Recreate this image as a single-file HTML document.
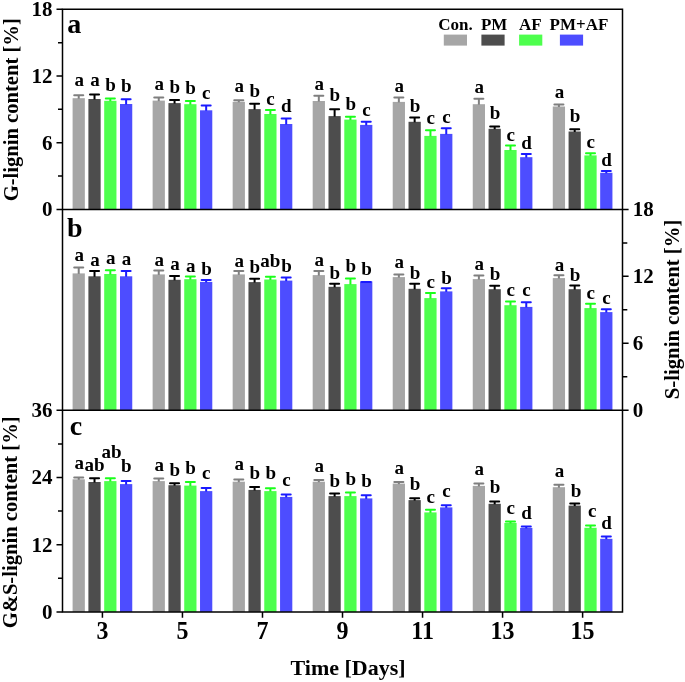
<!DOCTYPE html>
<html><head><meta charset="utf-8"><title>Lignin content chart</title><style>
html,body{margin:0;padding:0;background:#fff;width:685px;height:682px;overflow:hidden}
svg{display:block;will-change:transform;font-family:"Liberation Serif",serif;font-weight:bold}
.lb{font-size:18px;text-anchor:middle}
.tk text{font-size:21px}
.pl text{font-size:28px}
.lg text{font-size:17px}
.ti text{font-size:22px}
.tk text.xl{font-size:24px}
</style></head><body>
<svg width="685" height="682" viewBox="0 0 685 682">
<rect width="685" height="682" fill="#fff"/>
<rect x="72.6" y="98.2" width="12.25" height="111.2" fill="#a6a6a6"/>
<rect x="88.4" y="99" width="12.25" height="110.4" fill="#4d4d4d"/>
<rect x="104.2" y="100.8" width="12.25" height="108.6" fill="#4dff4d"/>
<rect x="120" y="104" width="12.25" height="105.4" fill="#4d4dff"/>
<path d="M78.72 95.3V98.7" stroke="#7f7f7f" stroke-width="2"/>
<path d="M74.2 95.3H83.25" stroke="#7f7f7f" stroke-width="2" stroke-linecap="round"/>
<path d="M94.52 94.5V99.5" stroke="#000000" stroke-width="2"/>
<path d="M90 94.5H99.05" stroke="#000000" stroke-width="2" stroke-linecap="round"/>
<path d="M110.32 98.4V101.3" stroke="#1aff1a" stroke-width="2"/>
<path d="M105.8 98.4H114.85" stroke="#1aff1a" stroke-width="2" stroke-linecap="round"/>
<path d="M126.12 99.2V104.5" stroke="#1a1aff" stroke-width="2"/>
<path d="M121.6 99.2H130.65" stroke="#1a1aff" stroke-width="2" stroke-linecap="round"/>
<text transform="translate(79.22 85.65) scale(1.06 1)" class="lb">a</text>
<text transform="translate(95.02 85.65) scale(1.06 1)" class="lb">a</text>
<text transform="translate(110.62 90.95) scale(1.06 1)" class="lb">b</text>
<text transform="translate(126.42 91.75) scale(1.06 1)" class="lb">b</text>
<rect x="152.63" y="100.6" width="12.25" height="108.8" fill="#a6a6a6"/>
<rect x="168.43" y="103.1" width="12.25" height="106.3" fill="#4d4d4d"/>
<rect x="184.23" y="104.2" width="12.25" height="105.2" fill="#4dff4d"/>
<rect x="200.03" y="110.3" width="12.25" height="99.1" fill="#4d4dff"/>
<path d="M158.75 97.4V101.1" stroke="#7f7f7f" stroke-width="2"/>
<path d="M154.23 97.4H163.28" stroke="#7f7f7f" stroke-width="2" stroke-linecap="round"/>
<path d="M174.56 100V103.6" stroke="#000000" stroke-width="2"/>
<path d="M170.03 100H179.08" stroke="#000000" stroke-width="2" stroke-linecap="round"/>
<path d="M190.35 101.1V104.7" stroke="#1aff1a" stroke-width="2"/>
<path d="M185.83 101.1H194.88" stroke="#1aff1a" stroke-width="2" stroke-linecap="round"/>
<path d="M206.16 105.6V110.8" stroke="#1a1aff" stroke-width="2"/>
<path d="M201.63 105.6H210.68" stroke="#1a1aff" stroke-width="2" stroke-linecap="round"/>
<text transform="translate(159.25 89.55) scale(1.06 1)" class="lb">a</text>
<text transform="translate(174.86 92.95) scale(1.06 1)" class="lb">b</text>
<text transform="translate(190.66 94.25) scale(1.06 1)" class="lb">b</text>
<text transform="translate(206.35 99.15) scale(1.06 1)" class="lb">c</text>
<rect x="232.66" y="101.8" width="12.25" height="107.6" fill="#a6a6a6"/>
<rect x="248.46" y="109.1" width="12.25" height="100.3" fill="#4d4d4d"/>
<rect x="264.26" y="114" width="12.25" height="95.4" fill="#4dff4d"/>
<rect x="280.06" y="124" width="12.25" height="85.4" fill="#4d4dff"/>
<path d="M238.78 100.2V102.3" stroke="#7f7f7f" stroke-width="2"/>
<path d="M234.26 100.2H243.31" stroke="#7f7f7f" stroke-width="2" stroke-linecap="round"/>
<path d="M254.59 103.7V109.6" stroke="#000000" stroke-width="2"/>
<path d="M250.06 103.7H259.11" stroke="#000000" stroke-width="2" stroke-linecap="round"/>
<path d="M270.38 109.9V114.5" stroke="#1aff1a" stroke-width="2"/>
<path d="M265.86 109.9H274.91" stroke="#1aff1a" stroke-width="2" stroke-linecap="round"/>
<path d="M286.19 118.5V124.5" stroke="#1a1aff" stroke-width="2"/>
<path d="M281.66 118.5H290.71" stroke="#1a1aff" stroke-width="2" stroke-linecap="round"/>
<text transform="translate(239.28 92.35) scale(1.06 1)" class="lb">a</text>
<text transform="translate(254.89 96.65) scale(1.06 1)" class="lb">b</text>
<text transform="translate(270.58 104.85) scale(1.06 1)" class="lb">c</text>
<text transform="translate(286.38 112.35) scale(1.06 1)" class="lb">d</text>
<rect x="312.69" y="101" width="12.25" height="108.4" fill="#a6a6a6"/>
<rect x="328.49" y="116.1" width="12.25" height="93.3" fill="#4d4d4d"/>
<rect x="344.29" y="119.6" width="12.25" height="89.8" fill="#4dff4d"/>
<rect x="360.09" y="124.9" width="12.25" height="84.5" fill="#4d4dff"/>
<path d="M318.81 95.8V101.5" stroke="#7f7f7f" stroke-width="2"/>
<path d="M314.29 95.8H323.34" stroke="#7f7f7f" stroke-width="2" stroke-linecap="round"/>
<path d="M334.62 109.2V116.6" stroke="#000000" stroke-width="2"/>
<path d="M330.09 109.2H339.14" stroke="#000000" stroke-width="2" stroke-linecap="round"/>
<path d="M350.42 116.8V120.1" stroke="#1aff1a" stroke-width="2"/>
<path d="M345.89 116.8H354.94" stroke="#1aff1a" stroke-width="2" stroke-linecap="round"/>
<path d="M366.22 121.8V125.4" stroke="#1a1aff" stroke-width="2"/>
<path d="M361.69 121.8H370.74" stroke="#1a1aff" stroke-width="2" stroke-linecap="round"/>
<text transform="translate(319.31 89.65) scale(1.06 1)" class="lb">a</text>
<text transform="translate(334.92 100.95) scale(1.06 1)" class="lb">b</text>
<text transform="translate(350.72 110.05) scale(1.06 1)" class="lb">b</text>
<text transform="translate(366.42 116.15) scale(1.06 1)" class="lb">c</text>
<rect x="392.72" y="101.9" width="12.25" height="107.5" fill="#a6a6a6"/>
<rect x="408.52" y="121.8" width="12.25" height="87.6" fill="#4d4d4d"/>
<rect x="424.32" y="135.9" width="12.25" height="73.5" fill="#4dff4d"/>
<rect x="440.12" y="133.9" width="12.25" height="75.5" fill="#4d4dff"/>
<path d="M398.85 97.6V102.4" stroke="#7f7f7f" stroke-width="2"/>
<path d="M394.32 97.6H403.37" stroke="#7f7f7f" stroke-width="2" stroke-linecap="round"/>
<path d="M414.65 117.4V122.3" stroke="#000000" stroke-width="2"/>
<path d="M410.12 117.4H419.17" stroke="#000000" stroke-width="2" stroke-linecap="round"/>
<path d="M430.45 130.3V136.4" stroke="#1aff1a" stroke-width="2"/>
<path d="M425.92 130.3H434.97" stroke="#1aff1a" stroke-width="2" stroke-linecap="round"/>
<path d="M446.25 128.3V134.4" stroke="#1a1aff" stroke-width="2"/>
<path d="M441.72 128.3H450.77" stroke="#1a1aff" stroke-width="2" stroke-linecap="round"/>
<text transform="translate(399.35 92.35) scale(1.06 1)" class="lb">a</text>
<text transform="translate(414.95 111.85) scale(1.06 1)" class="lb">b</text>
<text transform="translate(430.65 123.85) scale(1.06 1)" class="lb">c</text>
<text transform="translate(446.44 122.95) scale(1.06 1)" class="lb">c</text>
<rect x="472.75" y="104.2" width="12.25" height="105.2" fill="#a6a6a6"/>
<rect x="488.55" y="128.8" width="12.25" height="80.6" fill="#4d4d4d"/>
<rect x="504.35" y="150" width="12.25" height="59.4" fill="#4dff4d"/>
<rect x="520.15" y="157.2" width="12.25" height="52.2" fill="#4d4dff"/>
<path d="M478.88 98.8V104.7" stroke="#7f7f7f" stroke-width="2"/>
<path d="M474.35 98.8H483.4" stroke="#7f7f7f" stroke-width="2" stroke-linecap="round"/>
<path d="M494.68 126.5V129.3" stroke="#000000" stroke-width="2"/>
<path d="M490.15 126.5H499.2" stroke="#000000" stroke-width="2" stroke-linecap="round"/>
<path d="M510.48 145.4V150.5" stroke="#1aff1a" stroke-width="2"/>
<path d="M505.95 145.4H515" stroke="#1aff1a" stroke-width="2" stroke-linecap="round"/>
<path d="M526.27 154V157.7" stroke="#1a1aff" stroke-width="2"/>
<path d="M521.75 154H530.8" stroke="#1a1aff" stroke-width="2" stroke-linecap="round"/>
<text transform="translate(479.38 93.15) scale(1.06 1)" class="lb">a</text>
<text transform="translate(494.98 118.85) scale(1.06 1)" class="lb">b</text>
<text transform="translate(510.68 141.35) scale(1.06 1)" class="lb">c</text>
<text transform="translate(526.48 148.95) scale(1.06 1)" class="lb">d</text>
<rect x="552.78" y="106.5" width="12.25" height="102.9" fill="#a6a6a6"/>
<rect x="568.58" y="131.5" width="12.25" height="77.9" fill="#4d4d4d"/>
<rect x="584.38" y="155.4" width="12.25" height="54" fill="#4dff4d"/>
<rect x="600.18" y="172.8" width="12.25" height="36.6" fill="#4d4dff"/>
<path d="M558.9 104.5V107" stroke="#7f7f7f" stroke-width="2"/>
<path d="M554.38 104.5H563.43" stroke="#7f7f7f" stroke-width="2" stroke-linecap="round"/>
<path d="M574.7 129.2V132" stroke="#000000" stroke-width="2"/>
<path d="M570.18 129.2H579.23" stroke="#000000" stroke-width="2" stroke-linecap="round"/>
<path d="M590.5 153.3V155.9" stroke="#1aff1a" stroke-width="2"/>
<path d="M585.98 153.3H595.03" stroke="#1aff1a" stroke-width="2" stroke-linecap="round"/>
<path d="M606.3 171V173.3" stroke="#1a1aff" stroke-width="2"/>
<path d="M601.78 171H610.83" stroke="#1a1aff" stroke-width="2" stroke-linecap="round"/>
<text transform="translate(559.4 97.55) scale(1.06 1)" class="lb">a</text>
<text transform="translate(575 121.85) scale(1.06 1)" class="lb">b</text>
<text transform="translate(590.71 148.05) scale(1.06 1)" class="lb">c</text>
<text transform="translate(606.5 165.75) scale(1.06 1)" class="lb">d</text>
<rect x="72.6" y="273.4" width="12.25" height="136.9" fill="#a6a6a6"/>
<rect x="88.4" y="276.3" width="12.25" height="134" fill="#4d4d4d"/>
<rect x="104.2" y="274" width="12.25" height="136.3" fill="#4dff4d"/>
<rect x="120" y="276.3" width="12.25" height="134" fill="#4d4dff"/>
<path d="M78.72 267.4V273.9" stroke="#7f7f7f" stroke-width="2"/>
<path d="M74.2 267.4H83.25" stroke="#7f7f7f" stroke-width="2" stroke-linecap="round"/>
<path d="M94.52 270.9V276.8" stroke="#000000" stroke-width="2"/>
<path d="M90 270.9H99.05" stroke="#000000" stroke-width="2" stroke-linecap="round"/>
<path d="M110.32 270.2V274.5" stroke="#1aff1a" stroke-width="2"/>
<path d="M105.8 270.2H114.85" stroke="#1aff1a" stroke-width="2" stroke-linecap="round"/>
<path d="M126.12 270.9V276.8" stroke="#1a1aff" stroke-width="2"/>
<path d="M121.6 270.9H130.65" stroke="#1a1aff" stroke-width="2" stroke-linecap="round"/>
<text transform="translate(79.22 261.15) scale(1.06 1)" class="lb">a</text>
<text transform="translate(95.02 265.75) scale(1.06 1)" class="lb">a</text>
<text transform="translate(110.82 264.05) scale(1.06 1)" class="lb">a</text>
<text transform="translate(126.62 264.65) scale(1.06 1)" class="lb">a</text>
<rect x="152.63" y="274.4" width="12.25" height="135.9" fill="#a6a6a6"/>
<rect x="168.43" y="279.8" width="12.25" height="130.5" fill="#4d4d4d"/>
<rect x="184.23" y="279.2" width="12.25" height="131.1" fill="#4dff4d"/>
<rect x="200.03" y="281.9" width="12.25" height="128.4" fill="#4d4dff"/>
<path d="M158.75 270.5V274.9" stroke="#7f7f7f" stroke-width="2"/>
<path d="M154.23 270.5H163.28" stroke="#7f7f7f" stroke-width="2" stroke-linecap="round"/>
<path d="M174.56 276V280.3" stroke="#000000" stroke-width="2"/>
<path d="M170.03 276H179.08" stroke="#000000" stroke-width="2" stroke-linecap="round"/>
<path d="M190.35 276.6V279.7" stroke="#1aff1a" stroke-width="2"/>
<path d="M185.83 276.6H194.88" stroke="#1aff1a" stroke-width="2" stroke-linecap="round"/>
<path d="M206.16 279.9V282.4" stroke="#1a1aff" stroke-width="2"/>
<path d="M201.63 279.9H210.68" stroke="#1a1aff" stroke-width="2" stroke-linecap="round"/>
<text transform="translate(159.25 266.15) scale(1.06 1)" class="lb">a</text>
<text transform="translate(175.06 270.25) scale(1.06 1)" class="lb">a</text>
<text transform="translate(190.85 271.95) scale(1.06 1)" class="lb">a</text>
<text transform="translate(206.46 274.55) scale(1.06 1)" class="lb">b</text>
<rect x="232.66" y="274.4" width="12.25" height="135.9" fill="#a6a6a6"/>
<rect x="248.46" y="282.1" width="12.25" height="128.2" fill="#4d4d4d"/>
<rect x="264.26" y="279.5" width="12.25" height="130.8" fill="#4dff4d"/>
<rect x="280.06" y="280.6" width="12.25" height="129.7" fill="#4d4dff"/>
<path d="M238.78 271.1V274.9" stroke="#7f7f7f" stroke-width="2"/>
<path d="M234.26 271.1H243.31" stroke="#7f7f7f" stroke-width="2" stroke-linecap="round"/>
<path d="M254.59 278.7V282.6" stroke="#000000" stroke-width="2"/>
<path d="M250.06 278.7H259.11" stroke="#000000" stroke-width="2" stroke-linecap="round"/>
<path d="M270.38 276.7V280" stroke="#1aff1a" stroke-width="2"/>
<path d="M265.86 276.7H274.91" stroke="#1aff1a" stroke-width="2" stroke-linecap="round"/>
<path d="M286.19 277.5V281.1" stroke="#1a1aff" stroke-width="2"/>
<path d="M281.66 277.5H290.71" stroke="#1a1aff" stroke-width="2" stroke-linecap="round"/>
<text transform="translate(239.28 266.95) scale(1.06 1)" class="lb">a</text>
<text transform="translate(254.89 273.35) scale(1.06 1)" class="lb">b</text>
<text transform="translate(270.38 266.95) scale(1.06 1)" class="lb">ab</text>
<text transform="translate(286.49 271.65) scale(1.06 1)" class="lb">b</text>
<rect x="312.69" y="275.1" width="12.25" height="135.2" fill="#a6a6a6"/>
<rect x="328.49" y="286.8" width="12.25" height="123.5" fill="#4d4d4d"/>
<rect x="344.29" y="284.1" width="12.25" height="126.2" fill="#4dff4d"/>
<rect x="360.09" y="281.4" width="12.25" height="128.9" fill="#4d4dff"/>
<path d="M318.81 271.1V275.6" stroke="#7f7f7f" stroke-width="2"/>
<path d="M314.29 271.1H323.34" stroke="#7f7f7f" stroke-width="2" stroke-linecap="round"/>
<path d="M334.62 283.7V287.3" stroke="#000000" stroke-width="2"/>
<path d="M330.09 283.7H339.14" stroke="#000000" stroke-width="2" stroke-linecap="round"/>
<path d="M350.42 278.5V284.6" stroke="#1aff1a" stroke-width="2"/>
<path d="M345.89 278.5H354.94" stroke="#1aff1a" stroke-width="2" stroke-linecap="round"/>
<path d="M366.22 281.9V281.9" stroke="#1a1aff" stroke-width="2"/>
<path d="M361.69 281.9H370.74" stroke="#1a1aff" stroke-width="2" stroke-linecap="round"/>
<text transform="translate(319.31 265.75) scale(1.06 1)" class="lb">a</text>
<text transform="translate(334.92 279.25) scale(1.06 1)" class="lb">b</text>
<text transform="translate(350.72 271.65) scale(1.06 1)" class="lb">b</text>
<text transform="translate(366.52 275.15) scale(1.06 1)" class="lb">b</text>
<rect x="392.72" y="277.1" width="12.25" height="133.2" fill="#a6a6a6"/>
<rect x="408.52" y="288.8" width="12.25" height="121.5" fill="#4d4d4d"/>
<rect x="424.32" y="298.1" width="12.25" height="112.2" fill="#4dff4d"/>
<rect x="440.12" y="291.4" width="12.25" height="118.9" fill="#4d4dff"/>
<path d="M398.85 274.4V277.6" stroke="#7f7f7f" stroke-width="2"/>
<path d="M394.32 274.4H403.37" stroke="#7f7f7f" stroke-width="2" stroke-linecap="round"/>
<path d="M414.65 283.7V289.3" stroke="#000000" stroke-width="2"/>
<path d="M410.12 283.7H419.17" stroke="#000000" stroke-width="2" stroke-linecap="round"/>
<path d="M430.45 293.1V298.6" stroke="#1aff1a" stroke-width="2"/>
<path d="M425.92 293.1H434.97" stroke="#1aff1a" stroke-width="2" stroke-linecap="round"/>
<path d="M446.25 288.3V291.9" stroke="#1a1aff" stroke-width="2"/>
<path d="M441.72 288.3H450.77" stroke="#1a1aff" stroke-width="2" stroke-linecap="round"/>
<text transform="translate(399.35 268.45) scale(1.06 1)" class="lb">a</text>
<text transform="translate(414.95 279.45) scale(1.06 1)" class="lb">b</text>
<text transform="translate(430.65 287.65) scale(1.06 1)" class="lb">c</text>
<text transform="translate(446.55 283.65) scale(1.06 1)" class="lb">b</text>
<rect x="472.75" y="279.1" width="12.25" height="131.2" fill="#a6a6a6"/>
<rect x="488.55" y="289.2" width="12.25" height="121.1" fill="#4d4d4d"/>
<rect x="504.35" y="305.2" width="12.25" height="105.1" fill="#4dff4d"/>
<rect x="520.15" y="306.9" width="12.25" height="103.4" fill="#4d4dff"/>
<path d="M478.88 275.4V279.6" stroke="#7f7f7f" stroke-width="2"/>
<path d="M474.35 275.4H483.4" stroke="#7f7f7f" stroke-width="2" stroke-linecap="round"/>
<path d="M494.68 285.7V289.7" stroke="#000000" stroke-width="2"/>
<path d="M490.15 285.7H499.2" stroke="#000000" stroke-width="2" stroke-linecap="round"/>
<path d="M510.48 301.5V305.7" stroke="#1aff1a" stroke-width="2"/>
<path d="M505.95 301.5H515" stroke="#1aff1a" stroke-width="2" stroke-linecap="round"/>
<path d="M526.27 302.3V307.4" stroke="#1a1aff" stroke-width="2"/>
<path d="M521.75 302.3H530.8" stroke="#1a1aff" stroke-width="2" stroke-linecap="round"/>
<text transform="translate(479.38 270.15) scale(1.06 1)" class="lb">a</text>
<text transform="translate(494.98 280.35) scale(1.06 1)" class="lb">b</text>
<text transform="translate(510.68 295.55) scale(1.06 1)" class="lb">c</text>
<text transform="translate(526.48 295.55) scale(1.06 1)" class="lb">c</text>
<rect x="552.78" y="278.1" width="12.25" height="132.2" fill="#a6a6a6"/>
<rect x="568.58" y="289.2" width="12.25" height="121.1" fill="#4d4d4d"/>
<rect x="584.38" y="308.1" width="12.25" height="102.2" fill="#4dff4d"/>
<rect x="600.18" y="312.1" width="12.25" height="98.2" fill="#4d4dff"/>
<path d="M558.9 275.3V278.6" stroke="#7f7f7f" stroke-width="2"/>
<path d="M554.38 275.3H563.43" stroke="#7f7f7f" stroke-width="2" stroke-linecap="round"/>
<path d="M574.7 285.6V289.7" stroke="#000000" stroke-width="2"/>
<path d="M570.18 285.6H579.23" stroke="#000000" stroke-width="2" stroke-linecap="round"/>
<path d="M590.5 303.7V308.6" stroke="#1aff1a" stroke-width="2"/>
<path d="M585.98 303.7H595.03" stroke="#1aff1a" stroke-width="2" stroke-linecap="round"/>
<path d="M606.3 309.3V312.6" stroke="#1a1aff" stroke-width="2"/>
<path d="M601.78 309.3H610.83" stroke="#1a1aff" stroke-width="2" stroke-linecap="round"/>
<text transform="translate(559.4 270.95) scale(1.06 1)" class="lb">a</text>
<text transform="translate(575 280.55) scale(1.06 1)" class="lb">b</text>
<text transform="translate(590.71 298.75) scale(1.06 1)" class="lb">c</text>
<text transform="translate(606.5 303.65) scale(1.06 1)" class="lb">c</text>
<rect x="72.6" y="479.3" width="12.25" height="132.6" fill="#a6a6a6"/>
<rect x="88.4" y="482" width="12.25" height="129.9" fill="#4d4d4d"/>
<rect x="104.2" y="481.1" width="12.25" height="130.8" fill="#4dff4d"/>
<rect x="120" y="484.1" width="12.25" height="127.8" fill="#4d4dff"/>
<path d="M78.72 477.5V479.8" stroke="#7f7f7f" stroke-width="2"/>
<path d="M74.2 477.5H83.25" stroke="#7f7f7f" stroke-width="2" stroke-linecap="round"/>
<path d="M94.52 478.3V482.5" stroke="#000000" stroke-width="2"/>
<path d="M90 478.3H99.05" stroke="#000000" stroke-width="2" stroke-linecap="round"/>
<path d="M110.32 478.3V481.6" stroke="#1aff1a" stroke-width="2"/>
<path d="M105.8 478.3H114.85" stroke="#1aff1a" stroke-width="2" stroke-linecap="round"/>
<path d="M126.12 481V484.6" stroke="#1a1aff" stroke-width="2"/>
<path d="M121.6 481H130.65" stroke="#1a1aff" stroke-width="2" stroke-linecap="round"/>
<text transform="translate(79.22 469.25) scale(1.06 1)" class="lb">a</text>
<text transform="translate(94.52 470.65) scale(1.06 1)" class="lb">ab</text>
<text transform="translate(111.52 457.55) scale(1.06 1)" class="lb">ab</text>
<text transform="translate(126.42 471.55) scale(1.06 1)" class="lb">b</text>
<rect x="152.63" y="481.1" width="12.25" height="130.8" fill="#a6a6a6"/>
<rect x="168.43" y="485.2" width="12.25" height="126.7" fill="#4d4d4d"/>
<rect x="184.23" y="485.6" width="12.25" height="126.3" fill="#4dff4d"/>
<rect x="200.03" y="491.1" width="12.25" height="120.8" fill="#4d4dff"/>
<path d="M158.75 478.4V481.6" stroke="#7f7f7f" stroke-width="2"/>
<path d="M154.23 478.4H163.28" stroke="#7f7f7f" stroke-width="2" stroke-linecap="round"/>
<path d="M174.56 483.3V485.7" stroke="#000000" stroke-width="2"/>
<path d="M170.03 483.3H179.08" stroke="#000000" stroke-width="2" stroke-linecap="round"/>
<path d="M190.35 481.9V486.1" stroke="#1aff1a" stroke-width="2"/>
<path d="M185.83 481.9H194.88" stroke="#1aff1a" stroke-width="2" stroke-linecap="round"/>
<path d="M206.16 488V491.6" stroke="#1a1aff" stroke-width="2"/>
<path d="M201.63 488H210.68" stroke="#1a1aff" stroke-width="2" stroke-linecap="round"/>
<text transform="translate(159.25 470.95) scale(1.06 1)" class="lb">a</text>
<text transform="translate(174.86 475.95) scale(1.06 1)" class="lb">b</text>
<text transform="translate(190.66 474.45) scale(1.06 1)" class="lb">b</text>
<text transform="translate(206.35 479.45) scale(1.06 1)" class="lb">c</text>
<rect x="232.66" y="481.7" width="12.25" height="130.2" fill="#a6a6a6"/>
<rect x="248.46" y="489.9" width="12.25" height="122" fill="#4d4d4d"/>
<rect x="264.26" y="491.1" width="12.25" height="120.8" fill="#4dff4d"/>
<rect x="280.06" y="496.9" width="12.25" height="115" fill="#4d4dff"/>
<path d="M238.78 479.4V482.2" stroke="#7f7f7f" stroke-width="2"/>
<path d="M234.26 479.4H243.31" stroke="#7f7f7f" stroke-width="2" stroke-linecap="round"/>
<path d="M254.59 487V490.4" stroke="#000000" stroke-width="2"/>
<path d="M250.06 487H259.11" stroke="#000000" stroke-width="2" stroke-linecap="round"/>
<path d="M270.38 488.3V491.6" stroke="#1aff1a" stroke-width="2"/>
<path d="M265.86 488.3H274.91" stroke="#1aff1a" stroke-width="2" stroke-linecap="round"/>
<path d="M286.19 494.4V497.4" stroke="#1a1aff" stroke-width="2"/>
<path d="M281.66 494.4H290.71" stroke="#1a1aff" stroke-width="2" stroke-linecap="round"/>
<text transform="translate(239.28 470.35) scale(1.06 1)" class="lb">a</text>
<text transform="translate(254.89 479.45) scale(1.06 1)" class="lb">b</text>
<text transform="translate(270.69 479.15) scale(1.06 1)" class="lb">b</text>
<text transform="translate(286.38 486.15) scale(1.06 1)" class="lb">c</text>
<rect x="312.69" y="481.7" width="12.25" height="130.2" fill="#a6a6a6"/>
<rect x="328.49" y="496.1" width="12.25" height="115.8" fill="#4d4d4d"/>
<rect x="344.29" y="496.1" width="12.25" height="115.8" fill="#4dff4d"/>
<rect x="360.09" y="498.4" width="12.25" height="113.5" fill="#4d4dff"/>
<path d="M318.81 480V482.2" stroke="#7f7f7f" stroke-width="2"/>
<path d="M314.29 480H323.34" stroke="#7f7f7f" stroke-width="2" stroke-linecap="round"/>
<path d="M334.62 493.5V496.6" stroke="#000000" stroke-width="2"/>
<path d="M330.09 493.5H339.14" stroke="#000000" stroke-width="2" stroke-linecap="round"/>
<path d="M350.42 492.6V496.6" stroke="#1aff1a" stroke-width="2"/>
<path d="M345.89 492.6H354.94" stroke="#1aff1a" stroke-width="2" stroke-linecap="round"/>
<path d="M366.22 495.2V498.9" stroke="#1a1aff" stroke-width="2"/>
<path d="M361.69 495.2H370.74" stroke="#1a1aff" stroke-width="2" stroke-linecap="round"/>
<text transform="translate(319.31 472.15) scale(1.06 1)" class="lb">a</text>
<text transform="translate(334.92 486.55) scale(1.06 1)" class="lb">b</text>
<text transform="translate(350.72 484.65) scale(1.06 1)" class="lb">b</text>
<text transform="translate(366.52 486.75) scale(1.06 1)" class="lb">b</text>
<rect x="392.72" y="483.6" width="12.25" height="128.3" fill="#a6a6a6"/>
<rect x="408.52" y="500.1" width="12.25" height="111.8" fill="#4d4d4d"/>
<rect x="424.32" y="512.4" width="12.25" height="99.5" fill="#4dff4d"/>
<rect x="440.12" y="507.4" width="12.25" height="104.5" fill="#4d4dff"/>
<path d="M398.85 482V484.1" stroke="#7f7f7f" stroke-width="2"/>
<path d="M394.32 482H403.37" stroke="#7f7f7f" stroke-width="2" stroke-linecap="round"/>
<path d="M414.65 498.2V500.6" stroke="#000000" stroke-width="2"/>
<path d="M410.12 498.2H419.17" stroke="#000000" stroke-width="2" stroke-linecap="round"/>
<path d="M430.45 509.7V512.9" stroke="#1aff1a" stroke-width="2"/>
<path d="M425.92 509.7H434.97" stroke="#1aff1a" stroke-width="2" stroke-linecap="round"/>
<path d="M446.25 505.2V507.9" stroke="#1a1aff" stroke-width="2"/>
<path d="M441.72 505.2H450.77" stroke="#1a1aff" stroke-width="2" stroke-linecap="round"/>
<text transform="translate(399.35 474.45) scale(1.06 1)" class="lb">a</text>
<text transform="translate(414.95 489.85) scale(1.06 1)" class="lb">b</text>
<text transform="translate(430.65 502.75) scale(1.06 1)" class="lb">c</text>
<text transform="translate(446.44 497.25) scale(1.06 1)" class="lb">c</text>
<rect x="472.75" y="485.9" width="12.25" height="126" fill="#a6a6a6"/>
<rect x="488.55" y="503.8" width="12.25" height="108.1" fill="#4d4d4d"/>
<rect x="504.35" y="522.9" width="12.25" height="89" fill="#4dff4d"/>
<rect x="520.15" y="527.9" width="12.25" height="84" fill="#4d4dff"/>
<path d="M478.88 483.6V486.4" stroke="#7f7f7f" stroke-width="2"/>
<path d="M474.35 483.6H483.4" stroke="#7f7f7f" stroke-width="2" stroke-linecap="round"/>
<path d="M494.68 501.4V504.3" stroke="#000000" stroke-width="2"/>
<path d="M490.15 501.4H499.2" stroke="#000000" stroke-width="2" stroke-linecap="round"/>
<path d="M510.48 521.5V523.4" stroke="#1aff1a" stroke-width="2"/>
<path d="M505.95 521.5H515" stroke="#1aff1a" stroke-width="2" stroke-linecap="round"/>
<path d="M526.27 526.5V528.4" stroke="#1a1aff" stroke-width="2"/>
<path d="M521.75 526.5H530.8" stroke="#1a1aff" stroke-width="2" stroke-linecap="round"/>
<text transform="translate(479.38 475.45) scale(1.06 1)" class="lb">a</text>
<text transform="translate(494.98 492.65) scale(1.06 1)" class="lb">b</text>
<text transform="translate(510.68 513.95) scale(1.06 1)" class="lb">c</text>
<text transform="translate(526.48 519.25) scale(1.06 1)" class="lb">d</text>
<rect x="552.78" y="487.2" width="12.25" height="124.7" fill="#a6a6a6"/>
<rect x="568.58" y="505.6" width="12.25" height="106.3" fill="#4d4d4d"/>
<rect x="584.38" y="527.8" width="12.25" height="84.1" fill="#4dff4d"/>
<rect x="600.18" y="538.8" width="12.25" height="73.1" fill="#4d4dff"/>
<path d="M558.9 484.8V487.7" stroke="#7f7f7f" stroke-width="2"/>
<path d="M554.38 484.8H563.43" stroke="#7f7f7f" stroke-width="2" stroke-linecap="round"/>
<path d="M574.7 503.4V506.1" stroke="#000000" stroke-width="2"/>
<path d="M570.18 503.4H579.23" stroke="#000000" stroke-width="2" stroke-linecap="round"/>
<path d="M590.5 525.4V528.3" stroke="#1aff1a" stroke-width="2"/>
<path d="M585.98 525.4H595.03" stroke="#1aff1a" stroke-width="2" stroke-linecap="round"/>
<path d="M606.3 536.6V539.3" stroke="#1a1aff" stroke-width="2"/>
<path d="M601.78 536.6H610.83" stroke="#1a1aff" stroke-width="2" stroke-linecap="round"/>
<text transform="translate(559.4 476.85) scale(1.06 1)" class="lb">a</text>
<text transform="translate(576 496.65) scale(1.06 1)" class="lb">b</text>
<text transform="translate(592.21 516.95) scale(1.06 1)" class="lb">c</text>
<text transform="translate(606.5 528.85) scale(1.06 1)" class="lb">d</text>
<g stroke="#000" stroke-width="1.5" fill="none">
<path d="M62.5 9.3H622.5V611.9H62.5Z"/>
<path d="M62.5 209.4H622.5M62.5 410.3H622.5"/>
<path d="M56.5 209.4H62.5M56.5 142.7H62.5M56.5 76H62.5M56.5 9.3H62.5M56.5 611.9H62.5M56.5 544.7H62.5M56.5 477.5H62.5M56.5 410.3H62.5M58 176.05H62.5M58 109.35H62.5M58 42.65H62.5M58 578.3H62.5M58 511.1H62.5M58 443.9H62.5"/>
<path d="M622.5 410.3H628.6M622.5 343.33H628.6M622.5 276.37H628.6M622.5 209.4H628.6M622.5 376.82H627.3M622.5 309.85H627.3M622.5 242.88H627.3"/>
<path d="M102.42 611.9V617.7M182.45 611.9V617.7M262.49 611.9V617.7M342.51 611.9V617.7M422.55 611.9V617.7M502.57 611.9V617.7M582.61 611.9V617.7"/>
</g>
<g class="tk">
<text x="52.6" y="216.2" text-anchor="end">0</text>
<text x="52.6" y="149.5" text-anchor="end">6</text>
<text x="52.6" y="82.8" text-anchor="end">12</text>
<text x="52.6" y="16.1" text-anchor="end">18</text>
<text x="52.6" y="618.7" text-anchor="end">0</text>
<text x="52.6" y="551.5" text-anchor="end">12</text>
<text x="52.6" y="484.3" text-anchor="end">24</text>
<text x="52.6" y="417.1" text-anchor="end">36</text>
<text x="632.7" y="417.1" text-anchor="start">0</text>
<text x="632.7" y="350.13" text-anchor="start">6</text>
<text x="632.7" y="283.17" text-anchor="start">12</text>
<text x="632.7" y="216.2" text-anchor="start">18</text>
<text transform="translate(102.42 639.4) scale(1 1.03)" text-anchor="middle" class="xl">3</text>
<text transform="translate(182.45 639.4) scale(1 1.03)" text-anchor="middle" class="xl">5</text>
<text transform="translate(262.49 639.4) scale(1 1.03)" text-anchor="middle" class="xl">7</text>
<text transform="translate(342.51 639.4) scale(1 1.03)" text-anchor="middle" class="xl">9</text>
<text transform="translate(422.55 639.4) scale(1 1.03)" text-anchor="middle" class="xl">11</text>
<text transform="translate(502.57 639.4) scale(1 1.03)" text-anchor="middle" class="xl">13</text>
<text transform="translate(582.61 639.4) scale(1 1.03)" text-anchor="middle" class="xl">15</text>
</g>
<g class="pl">
<text x="67.3" y="33">a</text>
<text x="67.0" y="236.6">b</text>
<text x="69.8" y="435.2">c</text>
</g>
<g class="lg">
<text x="438.2" y="30.1">Con.</text>
<rect x="443.8" y="34.6" width="23.2" height="11" fill="#a6a6a6"/>
<text x="480.9" y="30.1">PM</text>
<rect x="481.4" y="34.6" width="23.2" height="11" fill="#4d4d4d"/>
<text x="519" y="30.1">AF</text>
<rect x="519.1" y="34.6" width="23.2" height="11" fill="#4dff4d"/>
<text x="549.6" y="30.1">PM+AF</text>
<rect x="559.9" y="34.6" width="23.2" height="11" fill="#4d4dff"/>
</g>
<g class="ti">
<text x="348.1" y="674.8" text-anchor="middle">Time [Days]</text>
<text transform="translate(18.0 109.8) rotate(-90)" text-anchor="middle" textLength="183.1" lengthAdjust="spacingAndGlyphs">G-lignin content [%]</text>
<text transform="translate(679.2 309.4) rotate(-90)" text-anchor="middle" textLength="179.6" lengthAdjust="spacingAndGlyphs">S-lignin content [%]</text>
<text transform="translate(17.4 522.3) rotate(-90)" text-anchor="middle" textLength="212.1" lengthAdjust="spacingAndGlyphs">G&amp;S-lignin content [%]</text>
</g>
</svg>
</body></html>
